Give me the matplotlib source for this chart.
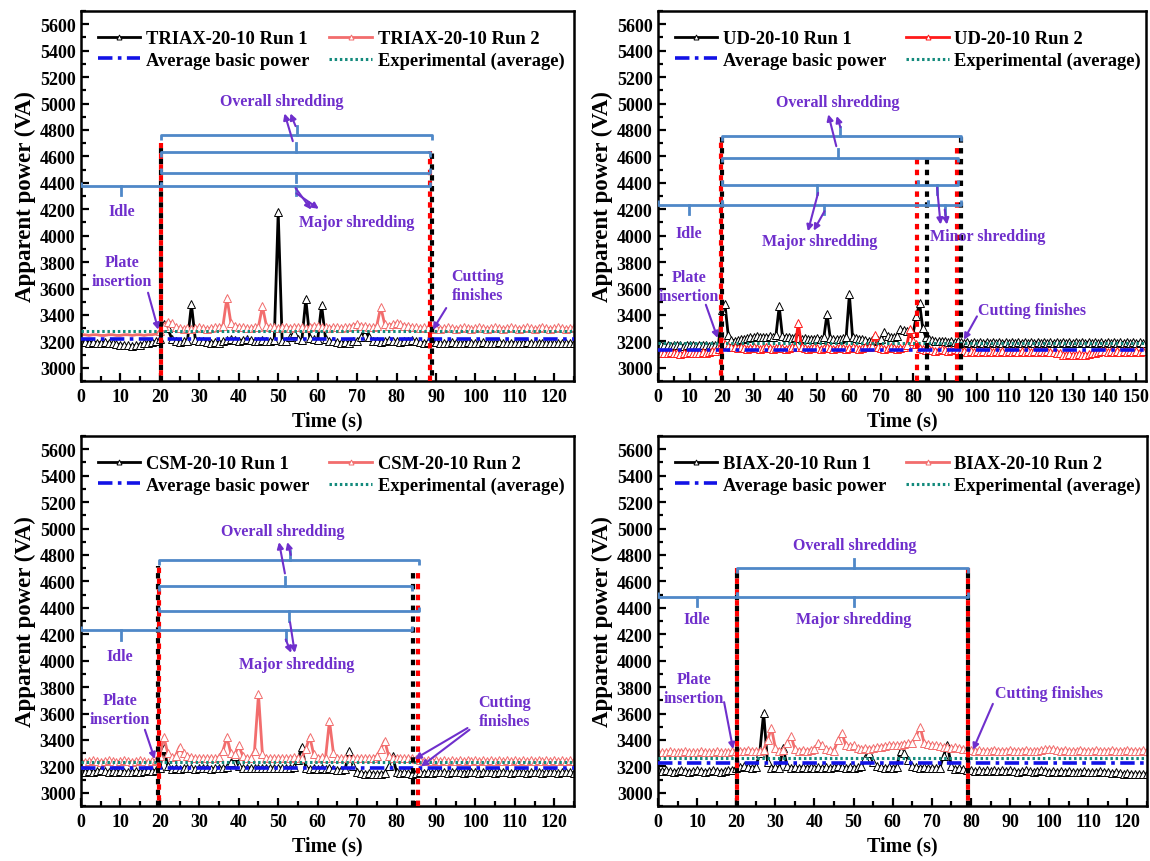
import matplotlib.pyplot as plt
from matplotlib.ticker import MultipleLocator

plt.rcParams['font.family'] = ['Liberation Serif', 'DejaVu Serif']
plt.rcParams['font.weight'] = 'bold'

# ---- data (1 s sampling) ----
time_125 = list(range(0, 126))
time_153 = list(range(0, 153))

triax_run1 = [
    3195, 3195, 3190, 3195, 3190, 3190, 3195, 3190, 3185, 3180,
    3175, 3170, 3170, 3165, 3170, 3175, 3185, 3190, 3195, 3200,
    3215, 3330, 3300, 3220, 3200, 3195, 3200, 3205, 3480, 3210,
    3205, 3200, 3195, 3190, 3195, 3190, 3200, 3210, 3215, 3210,
    3205, 3210, 3215, 3210, 3205, 3200, 3210, 3205, 3200, 3210,
    4180, 3205, 3200, 3230, 3265, 3215, 3210, 3520, 3225, 3215,
    3210, 3475, 3220, 3205, 3200, 3195, 3190, 3195, 3190, 3200,
    3205, 3230, 3290, 3230, 3205, 3200, 3195, 3200, 3210, 3205,
    3200, 3195, 3200, 3205, 3210, 3200, 3195, 3190, 3195, 3200,
    3195, 3190, 3185, 3190, 3195, 3190, 3185, 3190, 3195, 3190,
    3185, 3190, 3195, 3190, 3185, 3190, 3195, 3190, 3185, 3190,
    3190, 3185, 3190, 3195, 3190, 3185, 3190, 3185, 3190, 3185,
    3190, 3185, 3190, 3185, 3190, 3185]
triax_run2 = [
    3250, 3250, 3245, 3250, 3250, 3245, 3245, 3250, 3250, 3245,
    3245, 3250, 3250, 3245, 3250, 3250, 3245, 3250, 3250, 3255,
    3280, 3320, 3350, 3340, 3310, 3300, 3295, 3300, 3295, 3300,
    3305, 3300, 3295, 3300, 3305, 3310, 3320, 3530, 3340, 3320,
    3310, 3305, 3300, 3300, 3305, 3310, 3465, 3320, 3310, 3305,
    3300, 3305, 3310, 3300, 3305, 3310, 3305, 3300, 3310, 3320,
    3315, 3310, 3305, 3300, 3310, 3305, 3300, 3305, 3310, 3320,
    3330, 3320, 3315, 3310, 3305, 3320, 3460, 3330, 3320, 3330,
    3340, 3330, 3320, 3315, 3310, 3305, 3300, 3305, 3300, 3295,
    3300, 3295, 3300, 3305, 3300, 3295, 3300, 3305, 3300, 3295,
    3300, 3305, 3300, 3295, 3300, 3305, 3300, 3295, 3300, 3305,
    3300, 3295, 3300, 3305, 3300, 3295, 3300, 3305, 3300, 3295,
    3300, 3305, 3300, 3295, 3300, 3305]

ud_run1 = [
    3175, 3170, 3175, 3170, 3165, 3170, 3175, 3170, 3165, 3170,
    3175, 3170, 3165, 3170, 3175, 3170, 3165, 3170, 3175, 3180,
    3440, 3480, 3250, 3210, 3205, 3210, 3215, 3220, 3225, 3230,
    3235, 3240, 3235, 3230, 3235, 3240, 3235, 3250, 3465, 3240,
    3235, 3230, 3225, 3230, 3225, 3220, 3225, 3220, 3215, 3220,
    3225, 3220, 3230, 3410, 3225, 3220, 3215, 3220, 3225, 3235,
    3555, 3230, 3225, 3220, 3215, 3210, 3205, 3210, 3205, 3210,
    3215, 3270, 3240, 3235, 3230, 3240, 3290, 3285, 3280, 3275,
    3265, 3390, 3490, 3300, 3230, 3215, 3210, 3205, 3200, 3205,
    3200, 3195, 3200, 3195, 3200, 3195, 3190, 3195, 3190, 3195,
    3190, 3195, 3190, 3195, 3190, 3195, 3190, 3195, 3190, 3195,
    3190, 3195, 3190, 3195, 3190, 3195, 3190, 3195, 3190, 3195,
    3190, 3195, 3190, 3195, 3190, 3195, 3190, 3195, 3190, 3195,
    3190, 3195, 3190, 3195, 3190, 3195, 3190, 3195, 3190, 3195,
    3190, 3195, 3190, 3195, 3190, 3195, 3190, 3195, 3190, 3195,
    3190, 3195, 3190]
ud_run2 = [
    3120, 3115, 3110, 3115, 3120, 3115, 3110, 3105, 3110, 3115,
    3120, 3115, 3110, 3115, 3120, 3115, 3120, 3125, 3130, 3140,
    3200, 3180, 3165, 3160, 3155, 3150, 3155, 3150, 3145, 3150,
    3155, 3150, 3145, 3150, 3155, 3150, 3145, 3150, 3155, 3150,
    3145, 3150, 3155, 3160, 3340, 3160, 3150, 3145, 3150, 3155,
    3150, 3145, 3150, 3155, 3150, 3145, 3150, 3155, 3150, 3145,
    3150, 3155, 3150, 3145, 3150, 3155, 3160, 3165, 3250, 3160,
    3150, 3145, 3150, 3155, 3150, 3145, 3150, 3155, 3170, 3290,
    3200, 3180, 3150, 3140, 3135, 3140, 3135, 3130, 3135, 3140,
    3135, 3130, 3135, 3140, 3135, 3130, 3125, 3120, 3125, 3120,
    3125, 3120, 3125, 3120, 3125, 3120, 3125, 3120, 3125, 3120,
    3125, 3120, 3125, 3120, 3125, 3120, 3125, 3120, 3125, 3120,
    3125, 3120, 3125, 3120, 3120, 3115, 3110, 3100, 3100, 3105,
    3100, 3100, 3105, 3100, 3100, 3105, 3110, 3115, 3120, 3125,
    3125, 3120, 3125, 3120, 3125, 3120, 3125, 3120, 3125, 3120,
    3125, 3120, 3125]

csm_run1 = [
    3165, 3160, 3165, 3160, 3165, 3170, 3165, 3160, 3165, 3160,
    3165, 3160, 3155, 3160, 3165, 3160, 3165, 3170, 3165, 3170,
    3190, 3340, 3200, 3180, 3185, 3180, 3185, 3190, 3185, 3180,
    3185, 3190, 3185, 3180, 3185, 3190, 3185, 3195, 3230, 3275,
    3200, 3190, 3185, 3190, 3185, 3190, 3185, 3190, 3185, 3190,
    3185, 3190, 3185, 3190, 3195, 3250, 3350, 3190, 3180, 3185,
    3180, 3185, 3180, 3185, 3180, 3175, 3170, 3180, 3320, 3200,
    3160, 3150, 3145, 3150, 3145, 3140, 3145, 3150, 3200, 3275,
    3160, 3150, 3155, 3150, 3145, 3150, 3155, 3150, 3155, 3150,
    3155, 3160, 3155, 3150, 3155, 3160, 3155, 3150, 3155, 3160,
    3155, 3150, 3155, 3160, 3155, 3150, 3155, 3160, 3155, 3150,
    3155, 3160, 3155, 3150, 3155, 3160, 3155, 3150, 3155, 3160,
    3155, 3150, 3155, 3160, 3155, 3150]
csm_run2 = [
    3240, 3235, 3240, 3245, 3240, 3235, 3240, 3245, 3240, 3235,
    3240, 3245, 3240, 3235, 3240, 3245, 3240, 3235, 3240, 3245,
    3280, 3425, 3300, 3270, 3280, 3350, 3300, 3280, 3270, 3265,
    3260, 3265, 3260, 3265, 3260, 3270, 3320, 3420, 3300, 3290,
    3360, 3280, 3265, 3260, 3320, 3745, 3290, 3265, 3260, 3265,
    3260, 3265, 3260, 3265, 3270, 3265, 3260, 3330, 3425, 3290,
    3265, 3270, 3265, 3545, 3300, 3265, 3260, 3265, 3260, 3265,
    3260, 3265, 3260, 3265, 3260, 3280, 3330, 3395, 3280, 3265,
    3260, 3265, 3260, 3265, 3260, 3255, 3245, 3240, 3245, 3240,
    3245, 3240, 3245, 3240, 3245, 3240, 3245, 3240, 3245, 3240,
    3245, 3240, 3245, 3240, 3245, 3240, 3245, 3240, 3245, 3240,
    3245, 3240, 3245, 3240, 3245, 3240, 3245, 3240, 3245, 3240,
    3245, 3240, 3245, 3240, 3245, 3240]

biax_run1 = [
    3170, 3165, 3170, 3165, 3160, 3165, 3170, 3165, 3160, 3165,
    3170, 3165, 3160, 3165, 3170, 3165, 3160, 3165, 3170, 3175,
    3190, 3195, 3200, 3195, 3190, 3195, 3300, 3605, 3230, 3190,
    3195, 3190, 3340, 3200, 3190, 3195, 3190, 3195, 3190, 3195,
    3190, 3195, 3190, 3195, 3190, 3195, 3200, 3195, 3190, 3195,
    3190, 3195, 3200, 3260, 3300, 3230, 3200, 3195, 3190, 3195,
    3190, 3195, 3320, 3300, 3250, 3200, 3195, 3190, 3195, 3190,
    3185, 3190, 3185, 3280, 3360, 3200, 3180, 3185, 3180, 3175,
    3170, 3165, 3170, 3165, 3170, 3165, 3170, 3165, 3170, 3165,
    3170, 3165, 3160, 3165, 3170, 3165, 3160, 3165, 3170, 3165,
    3160, 3165, 3160, 3165, 3160, 3165, 3160, 3155, 3160, 3165,
    3160, 3155, 3160, 3165, 3160, 3155, 3150, 3155, 3150, 3145,
    3150, 3145, 3140, 3145, 3140, 3145]
biax_run2 = [
    3310, 3305, 3310, 3315, 3310, 3305, 3310, 3315, 3310, 3305,
    3310, 3315, 3310, 3305, 3310, 3315, 3310, 3305, 3310, 3315,
    3320, 3315, 3320, 3325, 3320, 3315, 3320, 3325, 3400, 3490,
    3340, 3320, 3325, 3380, 3430, 3330, 3320, 3325, 3320, 3325,
    3330, 3380, 3360, 3330, 3325, 3320, 3400, 3455, 3360, 3355,
    3360, 3340, 3335, 3340, 3335, 3340, 3345, 3350, 3355, 3360,
    3365, 3360, 3365, 3370, 3375, 3380, 3430, 3500, 3380, 3370,
    3365, 3360, 3355, 3350, 3345, 3340, 3345, 3340, 3335, 3330,
    3325, 3320, 3325, 3320, 3315, 3320, 3325, 3320, 3315, 3320,
    3325, 3320, 3315, 3320, 3325, 3320, 3315, 3320, 3325, 3330,
    3335, 3330, 3325, 3320, 3325, 3320, 3315, 3320, 3325, 3320,
    3315, 3320, 3325, 3320, 3315, 3320, 3325, 3320, 3315, 3320,
    3325, 3320, 3315, 3320, 3325, 3320]

# average basic power / experimental average per panel
basic_power = [3215, 3135, 3190, 3225]
experimental_avg = [3275, 3190, 3230, 3260]
sample_names = ['TRIAX-20-10', 'UD-20-10', 'CSM-20-10', 'BIAX-20-10']

PURPLE = '#6f2fcc'
BRACKET = '#4f88c8'
LIGHT_RED = '#f26d6d'
W, H = 1150, 862

fig = plt.figure(figsize=(11.5, 8.62), dpi=100)


def make_axes(left, top, right, bottom):
    return fig.add_axes([left / W, 1 - bottom / H, (right - left) / W, (bottom - top) / H])


def bracket(ax, x0, x1, y, xm, tick):
    # tick=+1: centre tick up, ends hook down; tick=-1 the other way
    ax.plot([x0, x0, x1, x1], [y - tick * 35, y, y, y - tick * 35],
            color=BRACKET, lw=2, solid_capstyle='butt', zorder=5)
    ax.plot([xm, xm], [y, y + tick * 70], color=BRACKET, lw=2, zorder=5)


def arrow(ax, start, end):
    ax.annotate('', xy=end, xytext=start,
                arrowprops=dict(arrowstyle='-|>', color=PURPLE, lw=1.5,
                                mutation_scale=9, shrinkA=0, shrinkB=0), zorder=6)


def label(ax, x, y, s):
    ax.text(x, y, s, color=PURPLE, fontsize=11.5, fontweight='bold',
            ha='center', va='center', linespacing=1.25, zorder=6)


def vline(ax, x, top, color, offset):
    ax.plot([x, x], [2900, top], color=color, lw=3,
            linestyle=(offset, (1.3, 1.3)), zorder=4)


panels = [
    dict(box=(81, 12, 574, 382), time=time_125, runs=(triax_run1, triax_run2), xmax=125,
         red=LIGHT_RED, red_marks=slice(20, None),
         brackets=[(0, 20.4, 4374, 10.2, -1), (20.4, 88.6, 4374, 54.4, -1),
                   (20.4, 88.6, 4476, 54.4, -1), (20.4, 88.6, 4632, 54.4, 1),
                   (20.4, 89.0, 4760, 54.8, 1)],
         vlines=[(20.4, 4700, 'black', 0), (20.4, 4700, 'red', 1.3),
                 (88.4, 4640, 'red', 0), (88.9, 4640, 'black', 1.3)],
         texts=[(50.8, 5020, 'Overall shredding'), (10.3, 4185, 'Idle'),
                (69.8, 4100, 'Major shredding'), (10.3, 3730, 'Plate\ninsertion'),
                (100.6, 3621, 'Cutting\nfinishes')],
         arrows=[((53.7, 4715), (51.6, 4925)), ((54.4, 4829), (53.1, 4925)),
                 ((54.4, 4360), (58.4, 4197)), ((54.6, 4320), (60.3, 4203)),
                 ((17.0, 3568), (19.6, 3288)), ((92.6, 3452), (89.2, 3288))]),
    dict(box=(658, 12, 1146, 382), time=time_153, runs=(ud_run1, ud_run2), xmax=153,
         red='#ff1a1a', red_marks=None,
         brackets=[(0, 20, 4235, 9.8, -1), (20, 84.5, 4235, 52, -1),
                   (84.5, 95, 4235, 90, -1), (20, 81.5, 4385, 50, -1),
                   (81.5, 94, 4385, 87.5, -1), (20, 94, 4589, 56.4, 1),
                   (20, 95, 4753, 57, 1)],
         vlines=[(20, 4750, 'black', 0), (19.8, 4750, 'red', 1.3),
                 (81.2, 4600, 'red', 0), (84.3, 4600, 'black', 0),
                 (93.8, 4700, 'red', 0), (94.9, 4750, 'black', 0)],
         texts=[(56.3, 5010, 'Overall shredding'), (9.8, 4021, 'Idle'),
                (50.6, 3957, 'Major shredding'), (103.3, 3995, 'Minor shredding'),
                (9.8, 3616, 'Plate\ninsertion'), (117.4, 3439, 'Cutting finishes')],
         arrows=[((55.9, 4677), (53.4, 4918)), ((57.2, 4820), (56.0, 4905)),
                 ((50.2, 4324), (47.0, 4033)), ((52.2, 4185), (48.8, 4038)),
                 ((87.5, 4362), (88.6, 4084)), ((89.9, 4197), (90.6, 4084)),
                 ((15.0, 3477), (18.7, 3225)), ((100.0, 3389), (95.9, 3212))]),
    dict(box=(81, 437, 574, 807), time=time_125, runs=(csm_run1, csm_run2), xmax=125,
         red=LIGHT_RED, red_marks=None,
         brackets=[(0, 19.8, 4230, 10.1, -1), (19.8, 84, 4230, 51.9, -1),
                   (19.8, 85.6, 4372, 52.8, -1), (19.8, 84, 4564, 51.6, 1),
                   (19.8, 85.6, 4758, 52.9, 1)],
         vlines=[(19.6, 4720, 'black', 0), (19.8, 4720, 'red', 1.3),
                 (84.1, 4700, 'black', 0), (85.4, 4700, 'red', 0)],
         texts=[(51.2, 4980, 'Overall shredding'), (54.6, 3978, 'Major shredding'),
                (9.9, 4038, 'Idle'), (9.9, 3629, 'Plate\ninsertion'),
                (107.3, 3616, 'Cutting\nfinishes')],
         arrows=[((51.7, 4660), (50.2, 4897)), ((53.2, 4800), (52.3, 4897)),
                 ((53.0, 4291), (54.2, 4059)), ((51.9, 4160), (53.3, 4059)),
                 ((16.2, 3477), (18.7, 3255)), ((98.0, 3490), (84.6, 3255)),
                 ((98.5, 3477), (86.2, 3199))]),
    dict(box=(658, 437, 1147, 807), time=time_125, runs=(biax_run1, biax_run2), xmax=125,
         red=LIGHT_RED, red_marks=None,
         brackets=[(0, 20.1, 4482, 10, -1), (20.1, 79.2, 4482, 50, -1),
                   (20.1, 79.2, 4698, 50, 1)],
         vlines=[(20.1, 4698, 'black', 0), (20.1, 4698, 'red', 1.3),
                 (79.2, 4698, 'black', 0), (79.2, 4698, 'red', 1.3)],
         texts=[(50.2, 4874, 'Overall shredding'), (9.8, 4316, 'Idle'),
                (50.0, 4316, 'Major shredding'), (9.2, 3788, 'Plate\ninsertion'),
                (100.0, 3755, 'Cutting finishes')],
         arrows=[((16.9, 3686), (19.2, 3330)), ((85.6, 3673), (80.5, 3325))]),
]

for i, p in enumerate(panels):
    ax = make_axes(*p['box'])
    t = p['time']
    run1, run2 = p['runs']
    name = sample_names[i]
    h1, = ax.plot(t, run1, color='black', lw=2, marker='^', ms=6, mfc='white', mec='black',
                  mew=0.7, zorder=2, label=f'{name} Run 1')
    h2, = ax.plot(t, run2, color=p['red'], lw=2, marker='^', ms=6, mfc='white', mec=p['red'],
                  mew=0.7, zorder=2, markevery=p['red_marks'], label=f'{name} Run 2')
    h3, = ax.plot([0, p['xmax']], [basic_power[i]] * 2, color='#1212e6', lw=2.6,
                  linestyle=(0, (4, 1.5, 1, 1.5)), zorder=3, label='Average basic power')
    h4, = ax.plot([0, p['xmax']], [experimental_avg[i]] * 2, color='#138a7c', lw=2.2,
                  linestyle=(0, (0.8, 0.9)), zorder=3, label='Experimental (average)')

    for x0, x1, y, xm, tick in p['brackets']:
        bracket(ax, x0, x1, y, xm, tick)
    for x, top, color, off in p['vlines']:
        vline(ax, x, top, color, off)
    for x, y, s in p['texts']:
        label(ax, x, y, s)
    for start, end in p['arrows']:
        arrow(ax, start, end)

    ax.set_xlim(0, p['xmax'])
    ax.set_ylim(2900, 5700)
    ax.xaxis.set_major_locator(MultipleLocator(10))
    ax.xaxis.set_minor_locator(MultipleLocator(5))
    ax.yaxis.set_minor_locator(MultipleLocator(100))
    ax.set_yticks(range(3000, 5601, 200))
    ax.tick_params(which='both', direction='in', width=1.6, top=False, right=False)
    ax.tick_params(which='major', length=6)
    ax.tick_params(which='minor', length=3.5)
    ax.tick_params(axis='y', labelsize=13, pad=4)
    ax.tick_params(axis='x', labelsize=13, pad=5)
    for sp in ax.spines.values():
        sp.set_linewidth(1.8)
    ax.set_xlabel('Time (s)', fontsize=14.5, fontweight='bold', labelpad=4)
    ax.set_ylabel('Apparent power (VA)', fontsize=16.5, fontweight='bold', labelpad=3)

    # order so rows read: Run 1 | Run 2 / basic | experimental
    ax.legend(handles=[h1, h3, h2, h4], loc='upper left', bbox_to_anchor=(0.019, 0.968),
              ncol=2, frameon=False, handlelength=2.3, handletextpad=0.3,
              columnspacing=1.1, labelspacing=0.25, borderaxespad=0, numpoints=1,
              markerscale=0.6, prop=dict(weight='bold', size=13.3))

fig.savefig('out.png', dpi=100)
